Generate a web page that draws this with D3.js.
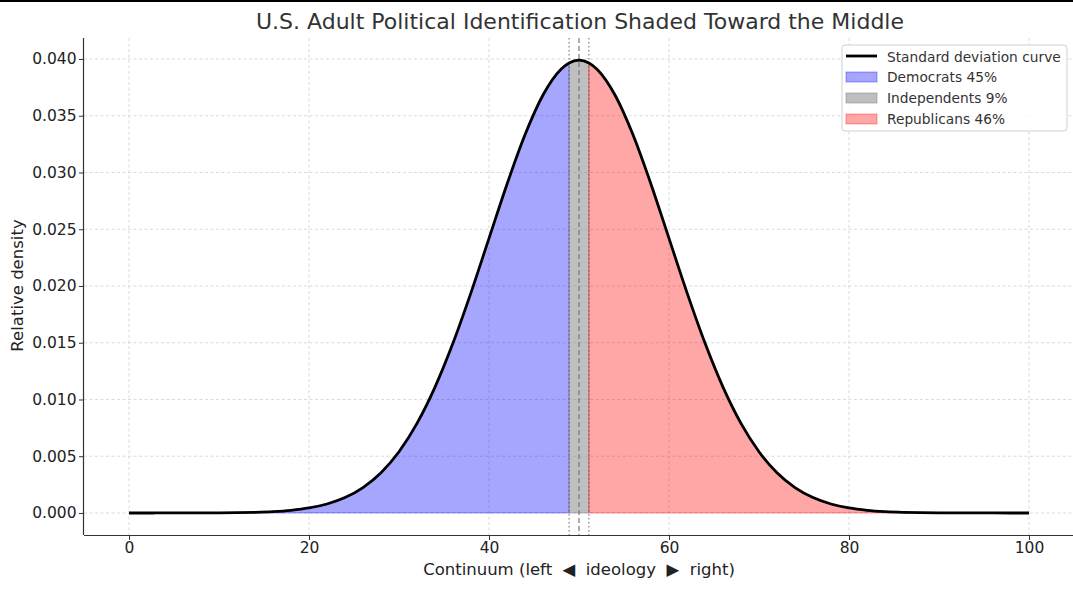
<!DOCTYPE html>
<html>
<head>
<meta charset="utf-8">
<script src="https://cdn.jsdelivr.net/npm/d3@7/dist/d3.min.js"></script>
<style>
html,body{margin:0;padding:0;background:#fff;}
svg{display:block;font-family:"DejaVu Sans",sans-serif;}
</style>
</head>
<body>
<svg id="chart" width="1073" height="589"></svg>
<script>
// ---- data ----
const xValues = [0,2,4,6,8,10,12,14,16,18,20,22,24,26,28,30,32,34,36,38,40,42,44,46,48,
  48.9,50,51.1,
  52,54,56,58,60,62,64,66,68,70,72,74,76,78,80,82,84,86,88,90,92,94,96,98,100];
const densityValues = [0.0000001,0.0000004,0.000001,0.0000025,0.0000059,0.000013,0.000029,0.000061,0.000123,0.000238,
  0.000443,0.000792,0.001358,0.002239,0.003547,0.005399,0.007895,0.011092,0.014973,0.019419,
  0.024197,0.028969,0.033322,0.036827,0.039104,
  0.039654,0.039894,0.039654,
  0.039104,0.036827,0.033322,0.028969,0.024197,0.019419,0.014973,0.011092,0.007895,0.005399,
  0.003547,0.002239,0.001358,0.000792,0.000443,0.000238,0.000123,0.000061,0.000029,0.000013,
  0.0000059,0.0000025,0.000001,0.0000004,0.0000001];
const groups = [
  {name:"Democrats 45%", from:0, to:48.9, color:"blue", opacity:0.35},
  {name:"Independents 9%", from:48.9, to:51.1, color:"gray", opacity:0.5},
  {name:"Republicans 46%", from:51.1, to:100, color:"red", opacity:0.35}
];
const lowerBound = 48.9, center = 50, upperBound = 51.1;
const xTicks = [0,20,40,60,80,100];
const yTicks = [0,0.005,0.010,0.015,0.020,0.025,0.030,0.035,0.040];
const curveLabel = "Standard deviation curve";
const titleText = "U.S. Adult Political Identification Shaded Toward the Middle";
const xLabel = "Continuum (left  \u25C0  ideology  \u25B6  right)";
const yLabel = "Relative density";

const points = xValues.map((x,i)=>({x, y:densityValues[i]}));

// ---- layout ----
const svg = d3.select("#chart");
const L = 84, R = 1074, T = 38, B = 535;
const x = d3.scaleLinear().domain([-5,105]).range([L,R]);
const y = d3.scaleLinear().domain([-0.00194,0.04185]).range([B,T]);

svg.append("rect").attr("x",0).attr("y",0).attr("width",1073).attr("height",2).attr("fill","#000");

// grid
const grid = svg.append("g");
grid.selectAll(".gx").data(xTicks).join("line")
  .attr("x1",d=>x(d)).attr("x2",d=>x(d)).attr("y1",T).attr("y2",B)
  .attr("stroke","#d0d0d0").attr("stroke-width",0.8).attr("stroke-dasharray","3,2.5");
grid.selectAll(".gy").data(yTicks).join("line")
  .attr("x1",L).attr("x2",R).attr("y1",d=>y(d)).attr("y2",d=>y(d))
  .attr("stroke","#d0d0d0").attr("stroke-width",0.8).attr("stroke-dasharray","3,2.5");

// fills
const area = d3.area().x(d=>x(d.x)).y0(y(0)).y1(d=>y(d.y)).curve(d3.curveMonotoneX);
groups.forEach(g=>{
  const sub = points.filter(p=>p.x>=g.from-1e-9 && p.x<=g.to+1e-9);
  svg.append("path").datum(sub).attr("d",area)
    .attr("fill",g.color).attr("fill-opacity",g.opacity)
    .attr("stroke",g.color).attr("stroke-opacity",g.opacity).attr("stroke-width",1);
});

// vertical reference lines
[lowerBound, upperBound].forEach(v=>{
  svg.append("line").attr("x1",x(v)).attr("x2",x(v)).attr("y1",T).attr("y2",B)
    .attr("stroke","#666").attr("stroke-width",1).attr("stroke-dasharray","1.5,2.5");
});
svg.append("line").attr("x1",x(center)).attr("x2",x(center)).attr("y1",T).attr("y2",B)
  .attr("stroke","#777").attr("stroke-width",1.2).attr("stroke-dasharray","5,3");

// curve
const line = d3.line().x(d=>x(d.x)).y(d=>y(d.y)).curve(d3.curveMonotoneX);
svg.append("path").datum(points).attr("d",line)
  .attr("fill","none").attr("stroke","#000").attr("stroke-width",2.8);

// axes
const xAxis = d3.axisBottom(x).tickValues(xTicks).tickSize(5).tickPadding(2).tickFormat(d3.format("d"));
const gx = svg.append("g").attr("transform",`translate(0,${B})`).call(xAxis);
gx.select(".domain").attr("d",`M${L},0.5H${R}`).attr("stroke","#333").attr("stroke-width",1.2);
const yAxis = d3.axisLeft(y).tickValues(yTicks).tickSize(5).tickPadding(2.5).tickFormat(d3.format(".3f"));
const gy = svg.append("g").attr("transform",`translate(${L},0)`).call(yAxis);
gy.select(".domain").attr("d",`M-0.5,${T}V${B}`).attr("stroke","#333").attr("stroke-width",1.2);
[gx,gy].forEach(g=>{
  g.selectAll(".tick line").attr("stroke","#333");
  g.selectAll(".tick text").attr("font-size",15.5).attr("fill","#222").attr("font-family","DejaVu Sans");
});

// title and labels
svg.append("text").attr("x",580).attr("y",29).attr("text-anchor","middle")
  .attr("font-size",22).attr("fill","#333").text(titleText);
svg.append("text").attr("x",579).attr("y",575).attr("text-anchor","middle")
  .attr("font-size",16.5).attr("fill","#222").attr("xml:space","preserve").style("white-space","pre").text(xLabel);
svg.append("text").attr("transform","translate(23,285.5) rotate(-90)").attr("text-anchor","middle")
  .attr("font-size",16.5).attr("fill","#222").text(yLabel);

// legend
const lg = svg.append("g").attr("transform","translate(842,45)");
lg.append("rect").attr("x",0).attr("y",0).attr("width",225).attr("height",86).attr("rx",3)
  .attr("fill","#fff").attr("fill-opacity",0.85).attr("stroke","#d0d0d0").attr("stroke-width",1);
lg.append("line").attr("x1",4).attr("x2",35).attr("y1",11).attr("y2",11).attr("stroke","#000").attr("stroke-width",2.8);
lg.append("text").attr("x",45).attr("y",16.5).attr("font-size",13.75).attr("fill","#333").text(curveLabel);
groups.forEach((g,i)=>{
  const yy = 32 + i*21;
  lg.append("rect").attr("x",4).attr("y",yy-5).attr("width",31).attr("height",10)
    .attr("fill",g.color).attr("fill-opacity",g.opacity)
    .attr("stroke",g.color).attr("stroke-opacity",g.opacity);
  lg.append("text").attr("x",45).attr("y",yy+5).attr("font-size",13.75).attr("fill","#333").text(g.name);
});
</script>
</body>
</html>
